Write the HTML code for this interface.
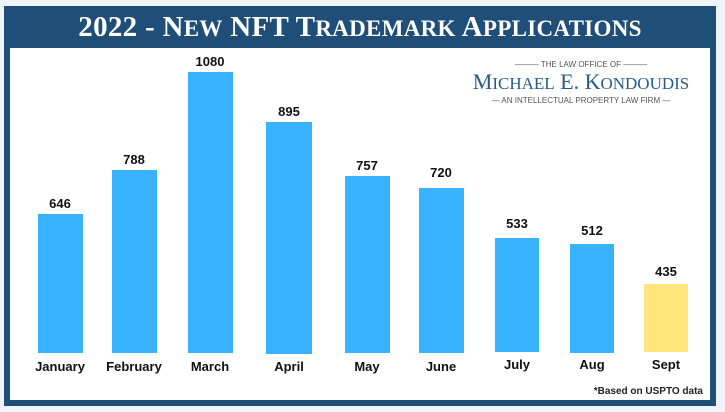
<!DOCTYPE html>
<html><head><style>
body{margin:0;width:725px;height:412px;background:#eef4f8;position:relative;overflow:hidden;font-family:"Liberation Sans",sans-serif}
.frame{position:absolute;left:4px;top:6px;width:712px;height:400px;background:#1f4e79}
.inner{position:absolute;left:10px;top:48px;width:700px;height:352px;background:#fff}
.title{position:absolute;left:4px;top:6px;width:712px;height:42px;text-align:center;color:#fff;font-family:"Liberation Serif",serif;font-size:29px;line-height:42px;font-weight:bold;letter-spacing:0.3px}
.title small{font-size:23px}
.bar{position:absolute;background:#38b3ff}
.v{position:absolute;width:60px;text-align:center;font-weight:bold;font-size:13px;color:#111}
.m{position:absolute;width:80px;text-align:center;font-weight:bold;font-size:13px;color:#111;top:359px}
</style></head><body>
<div class="frame"></div><div class="inner"></div>
<div class="title">2022 - N<small>EW</small> NFT T<small>RADEMARK</small> A<small>PPLICATIONS</small></div>

<div style="position:absolute;left:472px;top:60px;width:218px;color:#1f4e79;font-family:'Liberation Serif',serif;text-align:center">
<div style="font-size:8px;font-family:'Liberation Sans',sans-serif;color:#555;line-height:10px">——— THE LAW OFFICE OF ———</div>
<div style="font-size:22px;line-height:24px;color:#2a5a8a">M<span style="font-size:17px">ICHAEL</span> E. K<span style="font-size:17px">ONDOUDIS</span></div>
<div style="font-size:8px;font-family:'Liberation Sans',sans-serif;color:#555;line-height:10px">— AN INTELLECTUAL PROPERTY LAW FIRM —</div>
</div>

<div class="bar" style="left:38px;top:214px;width:45px;height:139px"></div>
<div class="bar" style="left:112px;top:170px;width:45px;height:183px"></div>
<div class="bar" style="left:188px;top:72px;width:45px;height:281px"></div>
<div class="bar" style="left:266px;top:122px;width:46px;height:232px"></div>
<div class="bar" style="left:345px;top:176px;width:45px;height:177px"></div>
<div class="bar" style="left:419px;top:188px;width:45px;height:165px"></div>
<div class="bar" style="left:495px;top:238px;width:44px;height:114px"></div>
<div class="bar" style="left:570px;top:244px;width:44px;height:109px"></div>
<div class="bar" style="left:644px;top:284px;width:44px;height:68px;background:#ffe57a"></div>

<div class="v" style="left:30px;top:196px">646</div>
<div class="v" style="left:104px;top:152px">788</div>
<div class="v" style="left:180px;top:54px">1080</div>
<div class="v" style="left:259px;top:104px">895</div>
<div class="v" style="left:337px;top:158px">757</div>
<div class="v" style="left:411px;top:165px">720</div>
<div class="v" style="left:487px;top:216px">533</div>
<div class="v" style="left:562px;top:223px">512</div>
<div class="v" style="left:636px;top:264px">435</div>

<div class="m" style="left:20px">January</div>
<div class="m" style="left:94px">February</div>
<div class="m" style="left:170px">March</div>
<div class="m" style="left:249px">April</div>
<div class="m" style="left:327px">May</div>
<div class="m" style="left:401px">June</div>
<div class="m" style="left:477px;top:357px">July</div>
<div class="m" style="left:552px;top:357px">Aug</div>
<div class="m" style="left:626px;top:357px">Sept</div>

<div style="position:absolute;right:22px;top:386px;font-size:10px;font-weight:bold;color:#222">*Based on USPTO data</div>
</body></html>
